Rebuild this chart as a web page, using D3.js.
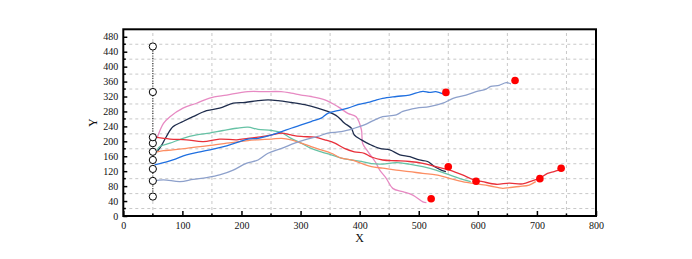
<!DOCTYPE html>
<html><head><meta charset="utf-8">
<script src="https://cdn.jsdelivr.net/npm/d3@7"></script>
<style>html,body{margin:0;padding:0;background:#fff;}svg{display:block;font-family:"Liberation Serif","Times New Roman",serif;}</style>
</head><body>
<svg id="c" width="692" height="259"></svg>
<script>
const seriesNames = ["pink","navy","green","red","orange","blue","lightblue"];
const seriesColors = ["#e78ac3","#1f2d4d","#66c2a5","#e8303a","#fc8d62","#1f6fe0","#8da0cb"];

const pinkX = [57,68,79,101,124,146,175,211,239,267,284,301,318,341,363,380,394,403,405,412,428,434,445,456,473,490,507,513];
const pinkY = [208,248,266,289,302,316,324,333,333,333,329,324,320,311,293,275,266,231,195,177,141,123,101,74,65,56,38,36];

const navyX = [57,65,73,84,101,118,141,163,186,206,228,245,262,284,307,329,346,363,374,386,391,403,417,434,451,468,485,501,515,527,538,546];
const navyY = [172,190,213,239,253,266,282,289,302,304,309,311,309,304,298,289,280,266,249,235,217,204,192,181,177,164,159,150,146,132,123,119];

const greenX = [57,62,79,101,124,146,169,192,211,228,251,268,284,301,318,335,352,369,386,403,420,439,462,484,507,529,552,574,588];
const greenY = [176,186,195,208,217,222,229,235,238,232,229,223,208,195,181,172,164,155,150,146,140,139,143,139,132,123,110,98,92];

const redX = [55,79,107,135,163,192,211,228,251,268,284,301,324,341,358,374,391,408,420,439,462,484,507,529,552,574,591,608,631,653,676,693,704,718,729,737];
const redY = [211,206,204,199,206,204,208,211,217,222,217,213,211,204,195,181,172,168,158,150,148,146,141,132,123,110,98,92,85,88,86,95,101,114,119,123];

const orangeX = [57,68,84,107,130,152,175,197,211,228,251,268,284,301,318,335,352,369,386,403,420,439,462,484,507,529,552,574,597,619,642,653,670,687,698];
const orangeY = [172,175,177,181,186,190,195,199,202,204,206,208,204,195,186,177,168,155,150,141,132,128,123,119,114,110,101,92,86,81,74,76,79,83,92];

const blueX = [53,68,84,107,130,152,175,197,211,228,251,268,284,301,318,335,346,363,380,397,414,425,439,462,484,507,518,529,541];
const blueY = [137,143,150,164,172,179,188,199,206,208,217,226,235,244,253,262,275,282,289,298,304,309,315,320,324,334,331,333,327];

const lightblueX = [51,68,96,118,141,163,186,208,228,245,268,290,307,329,346,369,391,408,425,439,462,473,496,518,541,558,580,597,614,622,636,648,656];
const lightblueY = [94,97,92,98,103,110,123,141,150,168,181,195,204,213,222,226,235,244,257,266,271,280,289,293,302,315,324,333,340,347,350,357,354];

const endX = [521,546,550,597,663,705,741];
const endY = [46,331,132,93,363,100,128];

const startX = [50,50,50,50,50,50,50,50,50];
const startY = [52,94,126,150,172,195,211,332,454];

const xTicks = [0,100,200,300,400,500,600,700,800];
const yTicks = [0,40,80,120,160,200,240,280,320,360,400,440,480];

const seriesX = [pinkX,navyX,greenX,redX,orangeX,blueX,lightblueX];
const seriesY = [pinkY,navyY,greenY,redY,orangeY,blueY,lightblueY];

const W = 692, H = 259;
const m = {l:123.3, r:96, t:29.3, b:43};
const svg = d3.select("#c");
const x = d3.scaleLinear().domain([0,800]).range([m.l, W-m.r]);
const y = d3.scaleLinear().domain([0,500]).range([H-m.b, m.t]);

// grid (at minor positions)
const gx = d3.range(50,800,100), gy = d3.range(20,500,40);
svg.append("g").selectAll("line").data(gx).join("line")
  .attr("x1",d=>x(d)).attr("x2",d=>x(d)).attr("y1",y(0)).attr("y2",y(500))
  .attr("stroke","#c8c8c8").attr("stroke-dasharray","3,3").attr("stroke-width",1);
svg.append("g").selectAll("line").data(gy).join("line")
  .attr("y1",d=>y(d)).attr("y2",d=>y(d)).attr("x1",x(0)).attr("x2",x(800))
  .attr("stroke","#c8c8c8").attr("stroke-dasharray","3,3").attr("stroke-width",1);

// axes
const xAxis = d3.axisBottom(x).tickValues(xTicks).tickSizeInner(-5).tickSizeOuter(0).tickPadding(6);
const gX = svg.append("g").attr("transform",`translate(0,${y(0)})`).call(xAxis);
const yAxis = d3.axisLeft(y).tickValues(yTicks).tickSizeInner(-4).tickSizeOuter(0).tickPadding(5);
const gY = svg.append("g").attr("transform",`translate(${x(0)},0)`).call(yAxis);
[gX,gY].forEach(g=>{
  g.select(".domain").remove();
  g.selectAll(".tick line").attr("stroke","#000").attr("stroke-width",1.5);
  g.selectAll("text").attr("font-size",10).attr("font-family","Liberation Serif").attr("fill","#111");
});
// minor ticks
svg.append("g").selectAll("line").data(gx).join("line")
  .attr("x1",d=>x(d)).attr("x2",d=>x(d)).attr("y1",y(0)).attr("y2",y(0)-2.5).attr("stroke","#000").attr("stroke-width",1.5);
svg.append("g").selectAll("line").data(gy).join("line")
  .attr("y1",d=>y(d)).attr("y2",d=>y(d)).attr("x1",x(0)).attr("x2",x(0)+2.5).attr("stroke","#000").attr("stroke-width",1.5);

// series lines
const line = d3.line().x(d=>x(d[0])).y(d=>y(d[1])).curve(d3.curveCatmullRom.alpha(0.5));
seriesNames.forEach((n,i)=>{
  const pts = seriesX[i].map((v,j)=>[v, seriesY[i][j]]);
  svg.append("path").datum(pts).attr("d",line).attr("fill","none")
    .attr("stroke",seriesColors[i]).attr("stroke-width",1.3);
});

// start markers (dotted vertical line with open circles)
const sPts = startX.map((v,j)=>[v,startY[j]]);
svg.append("path").datum(sPts).attr("d",d3.line().x(d=>x(d[0])).y(d=>y(d[1])))
  .attr("fill","none").attr("stroke","#000").attr("stroke-width",1).attr("stroke-dasharray","1,1.5");
svg.append("g").selectAll("circle").data(sPts).join("circle")
  .attr("cx",d=>x(d[0])).attr("cy",d=>y(d[1])).attr("r",3.6)
  .attr("fill","#fff").attr("stroke","#000").attr("stroke-width",1);

// end dots
svg.append("g").selectAll("circle").data(endX.map((v,j)=>[v,endY[j]])).join("circle")
  .attr("cx",d=>x(d[0])).attr("cy",d=>y(d[1])).attr("r",3.8).attr("fill","#ff0000");

// frame
svg.append("rect").attr("x",x(0)).attr("y",y(500)).attr("width",x(800)-x(0)).attr("height",y(0)-y(500))
  .attr("fill","none").attr("stroke","#000").attr("stroke-width",2);

// titles
svg.append("text").attr("x",(x(0)+x(800))/2).attr("y",241.5).attr("text-anchor","middle")
  .attr("font-size",12).attr("fill","#111").text("X");
svg.append("text").attr("transform",`translate(97,${(y(0)+y(500))/2}) rotate(-90)`).attr("text-anchor","middle")
  .attr("font-size",12).attr("fill","#111").text("Y");
</script>
</body></html>
